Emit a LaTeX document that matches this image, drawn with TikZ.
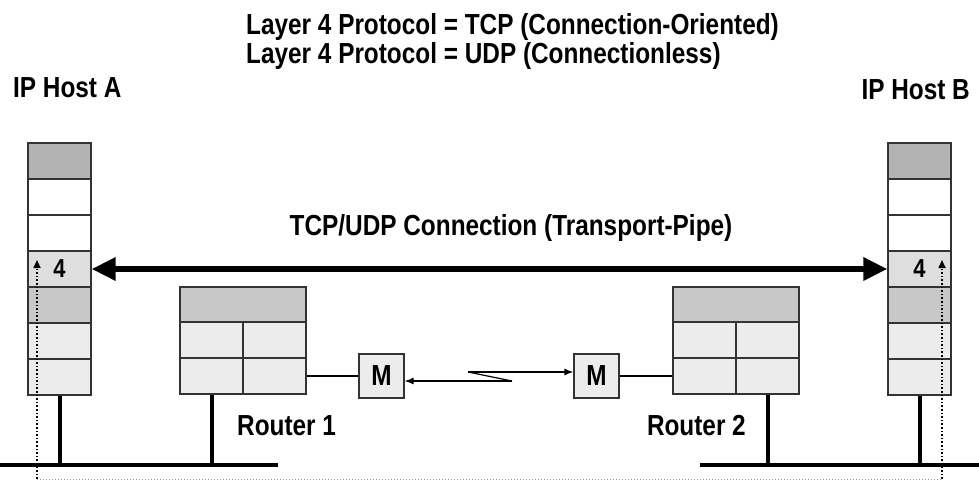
\documentclass[tikz,border=0pt]{standalone}
\usepackage{fontspec}
\setmainfont{Liberation Sans}[FakeStretch=0.84]
\usetikzlibrary{arrows.meta}
\definecolor{laydark}{HTML}{B3B3B3}
\definecolor{laymid}{HTML}{C8C8C8}
\definecolor{laylight}{HTML}{DEDEDE}
\definecolor{laypale}{HTML}{ECECEC}
\begin{document}
\begin{tikzpicture}[x=1pt, y=-1pt]
    % Define styles
    \tikzset{
        layer/.style={draw=black!80, line width=1.2pt, minimum width=63pt, minimum height=36pt, inner sep=0pt, font=\fontsize{26}{26}\selectfont\bfseries},
        cell/.style={layer, fill=laypale},
        modem/.style={draw=black!80, line width=1.2pt, fill=laypale, minimum width=45pt, minimum height=44pt, inner sep=0pt, font=\fontsize{29}{29}\selectfont\bfseries},
        label/.style={font=\fontsize{29}{29}\selectfont\bfseries, inner sep=0pt},
        pipe/.style={{Triangle[length=24pt, width=22pt]}-{Triangle[length=24pt, width=22pt]}, line width=6pt},
        bus/.style={line width=4pt},
        link/.style={line width=1.2pt},
        thinarrow/.style={-{Latex[length=9pt, width=7pt]}, line width=1.2pt},
        traceline/.style={dotted, line width=1.6pt, -{Triangle[length=8pt, width=7pt]}}
    }
    \useasboundingbox (0,0) rectangle (979,483);

    % Headers
    \node[label, anchor=base west] (tcp) at (246,34) {Layer 4 Protocol = TCP (Connection-Oriented)};
    \node[label, anchor=base west] (udp) at (246,63) {Layer 4 Protocol = UDP (Connectionless)};
    \node[label, anchor=base west] (hostA) at (13,97) {IP Host A};
    \node[label, anchor=base east] (hostB) at (970,99) {IP Host B};

    % Host A stack
    \node[layer, fill=laydark] (a1) at (59.5,161) {};
    \node[layer, fill=white] (a2) at (59.5,197) {};
    \node[layer, fill=white] (a3) at (59.5,233) {};
    \node[layer, fill=laylight] (a4) at (59.5,269) {4};
    \node[layer, fill=laymid] (a5) at (59.5,305) {};
    \node[layer, fill=laypale] (a6) at (59.5,341) {};
    \node[layer, fill=laypale] (a7) at (59.5,377) {};

    % Host B stack
    \node[layer, fill=laydark] (b1) at (919.5,161) {};
    \node[layer, fill=white] (b2) at (919.5,197) {};
    \node[layer, fill=white] (b3) at (919.5,233) {};
    \node[layer, fill=laylight] (b4) at (919.5,269) {4};
    \node[layer, fill=laymid] (b5) at (919.5,305) {};
    \node[layer, fill=laypale] (b6) at (919.5,341) {};
    \node[layer, fill=laypale] (b7) at (919.5,377) {};

    % Router 1
    \node[layer, fill=laymid, minimum width=126pt, minimum height=35pt] (r1top) at (243,304.5) {};
    \node[cell] (r1a) at (211.5,340) {};
    \node[cell] (r1b) at (274.5,340) {};
    \node[cell] (r1c) at (211.5,376) {};
    \node[cell] (r1d) at (274.5,376) {};
    \node[label, anchor=base west] (r1name) at (237,435) {Router 1};

    % Router 2
    \node[layer, fill=laymid, minimum width=126pt, minimum height=35pt] (r2top) at (736,304.5) {};
    \node[cell] (r2a) at (704.5,340) {};
    \node[cell] (r2b) at (767.5,340) {};
    \node[cell] (r2c) at (704.5,376) {};
    \node[cell] (r2d) at (767.5,376) {};
    \node[label, anchor=base east] (r2name) at (746,435) {Router 2};

    % Modems and serial link
    \node[modem] (m1) at (381.5,376) {M};
    \node[modem] (m2) at (596.5,376) {M};
    \draw[link] (r1d.east) -- (m1.west);
    \draw[link] (m2.east) -- (r2c.west);
    \coordinate (zlow) at (512,381);
    \coordinate (zhigh) at (468,372);
    \draw[thinarrow] (zlow) -- (zlow -| m1.east);
    \draw[link] (zlow) -- (zhigh);
    \draw[thinarrow] (zhigh) -- (zhigh -| m2.west);

    % Transport pipe
    \node[label, anchor=base] (pipetext) at (511,235) {TCP/UDP Connection (Transport-Pipe)};
    \draw[pipe] (a4.east) -- (b4.west);

    % LAN segments
    \coordinate (busAl) at (0,465);
    \coordinate (busAr) at (278,465);
    \coordinate (busBl) at (700,465);
    \coordinate (busBr) at (979,465);
    \draw[bus] (busAl) -- (busAr);
    \draw[bus] (busBl) -- (busBr);
    \draw[bus] (a7.south) -- (a7.south |- busAl);
    \draw[bus] (r1c.south) -- (r1c.south |- busAl);
    \draw[bus] (r2d.south) -- (r2d.south |- busBl);
    \draw[bus] (b7.south) -- (b7.south |- busBl);

    % Logical path between layer 4 entities
    \coordinate (dotA) at (37,479);
    \coordinate (dotB) at (942,479);
    \coordinate (tipA) at (37,260);
    \coordinate (tipB) at (942,260);
    \draw[dotted, black!40, line width=1pt] (dotA) -- (dotB);
    \draw[traceline] (dotA) -- (tipA);
    \draw[traceline] (dotB) -- (tipB);
\end{tikzpicture}
\end{document}
